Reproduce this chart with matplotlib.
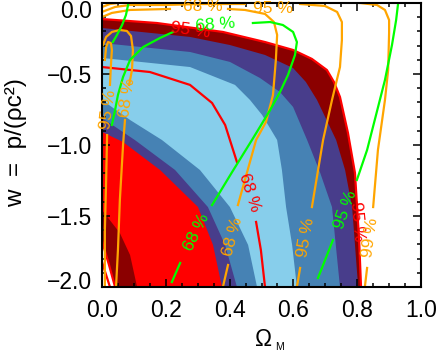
import matplotlib
matplotlib.use('Agg')
import matplotlib.pyplot as plt
import matplotlib.transforms as mtrans
from matplotlib.ticker import MultipleLocator
import numpy as np

plt.rcParams['font.family'] = ['Liberation Sans', 'DejaVu Sans']
nan = np.nan

# filled band boundaries (Omega_M, w), outermost first
b1_om = [0, .172, .379, .511, .599, .658, .705, .727, .746, .771, .793, .806, .812]
b1_w = [-.113, -.141, -.204, -.275, -.331, -.394, -.472, -.556, -.662, -.915, -1.197, -1.669, -2.0]
b2_om = [0, .276, .401, .511, .599, .639, .674, .734, .762, .784, .803]
b2_w = [-.176, -.239, -.296, -.366, -.458, -.556, -.683, -.965, -1.176, -1.437, -2.0]
b3_om = [0, .276, .401, .495, .558, .599, .643, .683, .721, .746]
b3_w = [-.282, -.345, -.415, -.528, -.627, -.732, -.965, -1.190, -1.437, -2.0]
b4_om = [0, .276, .417, .464, .502, .549, .564, .577, .596, .611]
b4_w = [-.387, -.451, -.577, -.683, -.789, -.965, -1.176, -1.437, -1.704, -2.0]
b5_om = [0, .088, .188, .307, .401, .458, .486]
b5_w = [-.683, -.824, -.965, -1.176, -1.437, -1.704, -2.0]
b6_om = [0, .103, .229, .332, .386, .423]
b6_w = [-.810, -.965, -1.176, -1.437, -1.704, -2.0]
b7_om = [0, .066, .182, .301, .348, .376]
b7_w = [-.908, -.979, -1.176, -1.437, -1.704, -2.0]
b8_om = [0, .056, .088, .110]
b8_w = [-1.458, -1.620, -1.775, -2.0]
b9_om = [0, .022, .041]
b9_w = [-1.676, -1.845, -2.0]

# red contours
r68_om = [0, .150, .276, .345, .386, .423, nan, .483, .498, .511]
r68_w = [-.451, -.486, -.577, -.704, -.859, -1.120, nan, -1.542, -1.739, -2.0]
rc_om = [0, .022, .041, nan, 0, .025]
rc_w = [-1.676, -1.845, -2.0, nan, -1.824, -2.0]

# orange contours
o68_om = [0, .031, .088, .213, nan, .395, .448, .511, .539, .549, .545, .536, .514, .483, .455, .426, nan, .395, .379]
o68_w = [-.099, -.070, -.049, -.042, nan, -.042, -.049, -.077, -.134, -.225, -.401, -.648, -.838, -.965, -1.190, -1.423, nan, -1.845, -2.0]
o95_om = [0, .041, .088, .197, .307, .448, nan, .621, .699, .737, .752, .752, .746, .721, .693, .658, nan, .621, .611]
o95_w = [-.063, -.028, -.014, -.014, -.007, -.007, nan, -.007, -.021, -.063, -.134, -.261, -.451, -.683, -.965, -1.437, nan, -1.866, -2.0]
o99_om = [0, .025, .050, .119, .746, .809, .862, .887, .900, .900, .897, .887, .865, .850, nan, .831, .824]
o99_w = [-.028, -.007, 0, .028, .007, 0, -.014, -.049, -.120, -.211, -.472, -.683, -1.035, -1.437, nan, -1.866, -2.0]
h95_om = [.009, .013, .019, .028, .031, .028, .025, nan, .016, .013, .009, .009]
h95_w = [-.401, -.310, -.275, -.282, -.331, -.437, -.577, nan, -.930, -1.246, -1.599, -2.0]
h68_om = [.003, .013, .031, .056, .078, .091, .097, .094, .085, nan, .072, .066, .056, .050, .044]
h68_w = [-.296, -.239, -.204, -.190, -.197, -.232, -.331, -.472, -.577, nan, -.824, -1.0, -1.387, -1.739, -2.0]

# green contours
g68_om = [.031, .041, .050, .066, .088, .129, .182, .223, nan, .473, .527, .567, .599, .611, .605, .583,
          .558, .527, .495, .470, .408, .345, nan, .245, .219]
g68_w = [-.859, -.754, -.648, -.521, -.401, -.310, -.246, -.204, nan, -.141, -.134, -.155, -.204, -.275, -.366, -.507,
         -.627, -.754, -.873, -.965, -1.190, -1.423, nan, -1.831, -1.965]
g95_om = [.085, .075, .063, .047, .034, nan, .928, .922, .909, .887, .859, .831, .799, nan, .724, .677]
g95_w = [.021, -.085, -.155, -.225, -.275, nan, -.007, -.120, -.296, -.542, -.789, -1.035, -1.246, nan, -1.669, -1.937]

x_ticks = [0.0, 0.2, 0.4, 0.6, 0.8, 1.0]
x_tick_labels = ['0.0', '0.2', '0.4', '0.6', '0.8', '1.0']
y_ticks = [-2.0, -1.5, -1.0, -0.5, 0.0]
y_tick_labels = ['\u22122.0', '\u22121.5', '\u22121.0', '\u22120.5', '0.0']

fig = plt.figure(figsize=(4.37, 3.52), dpi=100)
ax = fig.add_axes([0.2334, 0.1847, 0.7300, 0.8068])

bands = [(b1_om, b1_w, '#8b0000'), (b2_om, b2_w, '#483d8b'), (b3_om, b3_w, '#4682b4'),
         (b4_om, b4_w, '#87ceeb'), (b5_om, b5_w, '#4682b4'), (b6_om, b6_w, '#483d8b'),
         (b7_om, b7_w, '#ff0000'), (b8_om, b8_w, '#8b0000'), (b9_om, b9_w, 'white')]
for om, w, col in bands:
    ax.fill(list(om) + [0], list(w) + [-2.0], color=col, lw=0, zorder=1)

lw = 1.6
ax.plot(b1_om, b1_w, color='red', lw=lw, zorder=2)
ax.plot(r68_om, r68_w, color='red', lw=lw, zorder=2)
ax.plot(rc_om, rc_w, color='red', lw=lw, zorder=2)
for om, w in [(o68_om, o68_w), (o95_om, o95_w), (o99_om, o99_w), (h95_om, h95_w), (h68_om, h68_w)]:
    ax.plot(om, w, color='orange', lw=lw, zorder=2)
for om, w in [(g68_om, g68_w), (g95_om, g95_w)]:
    ax.plot(om, w, color='#00ff00', lw=lw, zorder=2)

def lab(x, y, s, col, rot):
    ax.text(x, y, s, color=col, fontsize=12.5, rotation=rot, ha='center', va='center',
            rotation_mode='anchor', clip_on=False, zorder=5)

lab(.276, -.190, '95 %', 'red', -8)
lab(.461, -1.331, '68 %', 'red', -72)
lab(.799, -1.542, '95 %', 'red', -85)
lab(.317, -.028, '68 %', 'orange', 0)
lab(.536, -.042, '95 %', 'orange', 0)
lab(.019, -.754, '95 %', 'orange', 82)
lab(.078, -.669, '68 %', 'orange', 82)
lab(.411, -1.648, '68 %', 'orange', 75)
lab(.639, -1.655, '95 %', 'orange', 80)
lab(.840, -1.655, '99 %', 'orange', 82)
lab(.354, -.155, '68 %', '#00ff00', 5)
lab(.298, -1.613, '68 %', '#00ff00', 64)
lab(.765, -1.458, '95 %', '#00ff00', 70)

ax.set_xlim(0, 1)
ax.set_ylim(-2, 0)
ax.set_xticks(x_ticks)
ax.set_xticklabels(x_tick_labels)
ax.set_yticks(y_ticks)
ax.set_yticklabels(y_tick_labels)
ax.xaxis.set_minor_locator(MultipleLocator(0.05))
ax.yaxis.set_minor_locator(MultipleLocator(0.1))
ax.tick_params(which='both', direction='in', top=True, right=True, width=1.1, labelsize=16.5)
ax.tick_params(which='major', length=5.5)
ax.tick_params(which='minor', length=3)
ax.tick_params(axis='y', pad=7)
ax.tick_params(axis='x', pad=9)
for sp in ax.spines.values():
    sp.set_linewidth(1.5)

# end labels sit a little inside the frame
ylabs = ax.get_yticklabels()
ylabs[0].set_transform(ylabs[0].get_transform() + mtrans.ScaledTranslation(0, 5 / 72, fig.dpi_scale_trans))
ylabs[-1].set_transform(ylabs[-1].get_transform() + mtrans.ScaledTranslation(0, -4.5 / 72, fig.dpi_scale_trans))

fig.text(16 / 437, 1 - 143 / 352, 'w  =  p/(\u03c1c\u00b2)', rotation=90, ha='center', va='center', fontsize=17.5)
fig.text(264 / 437, 1 - 339 / 352, '\u03a9', ha='center', va='center', fontsize=16.5)
fig.text(279 / 437, 1 - 347 / 352, 'M', ha='center', va='center', fontsize=7.5)

fig.savefig('out.png', dpi=100)
